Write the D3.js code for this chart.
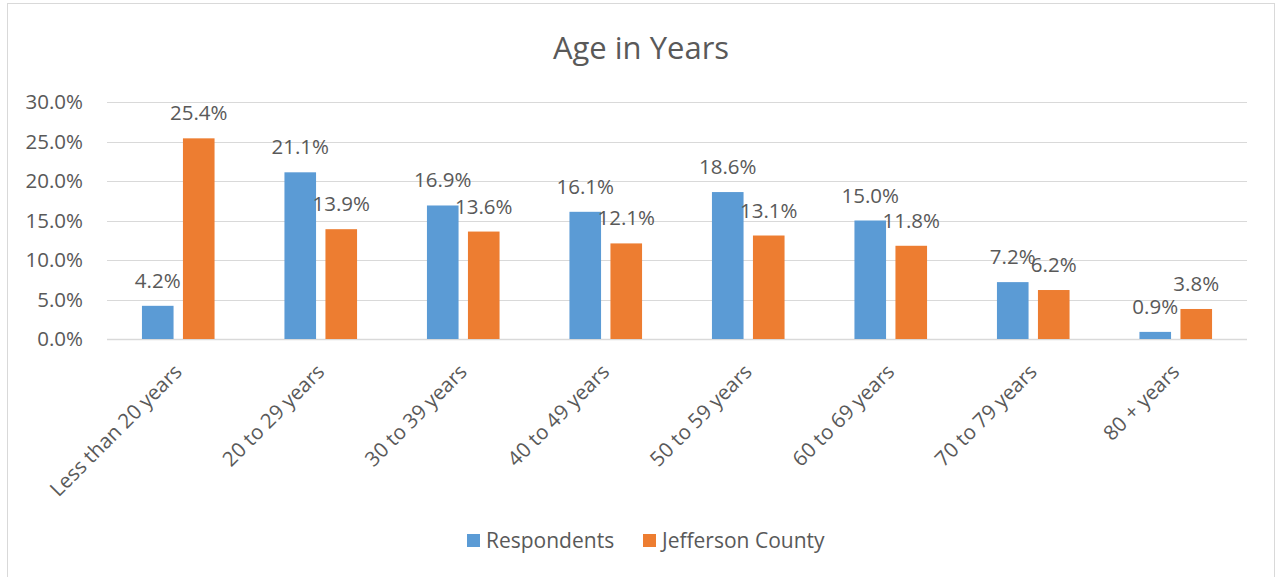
<!DOCTYPE html>
<html>
<head>
<meta charset="utf-8">
<script src="https://cdn.jsdelivr.net/npm/d3@7"></script>
<style>
  body { margin: 0; background: #fff; }
  text { font-family: "Open Sans", sans-serif; fill: #595959; }
</style>
</head>
<body>
<div id="chart"></div>
<script>
var categories = ['Less than 20 years', '20 to 29 years', '30 to 39 years', '40 to 49 years',
    '50 to 59 years', '60 to 69 years', '70 to 79 years', '80 + years'];
var respondents = [4.2, 21.1, 16.9, 16.1, 18.6, 15.0, 7.2, 0.9];
var county = [25.4, 13.9, 13.6, 12.1, 13.1, 11.8, 6.2, 3.8];
var seriesNames = ['Respondents', 'Jefferson County'];
var colors = ['#5B9BD5', '#ED7D31'];
var yTicks = [0, 5, 10, 15, 20, 25, 30];

var W = 1276, H = 577;
var plotL = 107, plotR = 1247, plotT = 102, plotB = 339;
var fs = '20.5px';

var svg = d3.select('#chart').append('svg')
    .attr('width', W)
    .attr('height', H);

// chart frame
svg.append('rect')
    .attr('x', 7.5).attr('y', 3.5)
    .attr('width', 1267).attr('height', 590)
    .attr('fill', '#fff')
    .attr('stroke', '#d9d9d9');

svg.append('text')
    .attr('x', 641).attr('y', 59)
    .attr('text-anchor', 'middle')
    .style('font-size', '31px')
    .text('Age in Years');

var x = d3.scaleBand().domain(categories).range([plotL, plotR]);
var y = d3.scaleLinear().domain([0, 30]).range([plotB, plotT]);

var barW = 31.6, gap = 9.4;

// gridlines
svg.append('g').selectAll('line')
    .data(yTicks).enter().append('line')
    .attr('x1', plotL).attr('x2', plotR)
    .attr('y1', function(d){ return Math.round(y(d)) + 0.5 })
    .attr('y2', function(d){ return Math.round(y(d)) + 0.5 })
    .attr('stroke', '#d9d9d9')
    .attr('stroke-width', function(d){ return d == 0 ? 1.4 : 1 });

// y axis labels
var yAxis = d3.axisLeft(y).tickValues(yTicks)
    .tickFormat(function(d){ return d3.format('.1f')(d) + '%' })
    .tickSize(0).tickPadding(0);
var gy = svg.append('g')
    .attr('transform', 'translate(83,0)')
    .call(yAxis);
gy.select('.domain').remove();
gy.selectAll('text')
    .style('font-size', fs)
    .style('font-family', '"Open Sans", sans-serif')
    .attr('fill', '#595959');

// bars
var series = [respondents, county];
series.forEach(function(vals, s){
    var g = svg.append('g');
    var off = s == 0 ? -(gap / 2 + barW) : gap / 2;
    var bx = function(i){ return x(categories[i]) + x.bandwidth() / 2 + off };
    g.selectAll('rect').data(vals).enter().append('rect')
        .attr('x', function(d, i){ return bx(i) })
        .attr('y', function(d){ return y(d) })
        .attr('width', barW)
        .attr('height', function(d){ return plotB - y(d) })
        .attr('fill', colors[s]);
    g.selectAll('text').data(vals).enter().append('text')
        .attr('x', function(d, i){ return bx(i) + barW / 2 })
        .attr('y', function(d){ return y(d) - 18 })
        .attr('text-anchor', 'middle')
        .style('font-size', fs)
        .text(function(d){ return d3.format('.1f')(d) + '%' });
});

// x labels
svg.append('g').selectAll('text')
    .data(categories).enter().append('text')
    .attr('transform', function(d){
        return 'translate(' + (x(d) + x.bandwidth() / 2 + 5) + ',' + (plotB + 34) + ') rotate(-45)';
    })
    .attr('text-anchor', 'end')
    .style('font-size', fs)
    .text(function(d){ return d });

// legend
var legX = [467, 643];
seriesNames.forEach(function(n, i){
    svg.append('rect')
        .attr('x', legX[i]).attr('y', 534)
        .attr('width', 13).attr('height', 13)
        .attr('fill', colors[i]);
    svg.append('text')
        .attr('x', legX[i] + 19).attr('y', 548)
        .style('font-size', '21px')
        .text(n);
});
</script>
</body>
</html>
